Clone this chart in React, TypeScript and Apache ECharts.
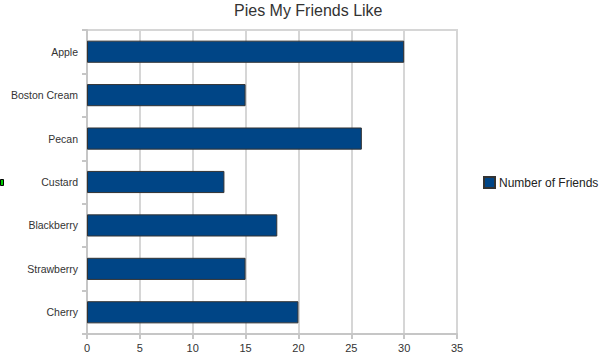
import React, { useEffect, useRef } from "react";
import * as echarts from "echarts";

const categories = ["Apple", "Boston Cream", "Pecan", "Custard", "Blackberry", "Strawberry", "Cherry"];
const friends = [30, 15, 26, 13, 18, 15, 20];
const seriesName = "Number of Friends";
const chartTitle = "Pies My Friends Like";

export default function App() {
  const ref = useRef<HTMLDivElement>(null);
  useEffect(() => {
    if (!ref.current) return;
    const chart = echarts.init(ref.current, null, { renderer: "svg" });
    const font = "'Liberation Sans', Arial, sans-serif";
    chart.setOption({
      animation: false,
      backgroundColor: "#ffffff",
      title: {
        text: chartTitle,
        left: 234,
        top: 2,
        padding: 0,
        textStyle: { fontFamily: font, fontSize: 16, fontWeight: "normal", color: "#333333" },
      },
      legend: {
        data: [seriesName],
        orient: "vertical",
        left: 483,
        top: 176,
        padding: 0,
        itemWidth: 11,
        itemHeight: 11,
        itemGap: 4,
        icon: "rect",
        textStyle: { fontFamily: font, fontSize: 12, color: "#222222", padding: [0, 0, 0, -1] },
      },
      grid: {
        left: 87,
        right: 153,
        top: 30,
        bottom: 30,
        show: true,
        borderColor: "#d6d6d6",
        borderWidth: 2,
      },
      xAxis: {
        type: "value",
        min: 0,
        max: 35,
        interval: 5,
        axisLine: { show: true, lineStyle: { color: "#c6c6c6", width: 2 } },
        axisTick: { show: true, length: 5, lineStyle: { color: "#c6c6c6", width: 2 } },
        axisLabel: { fontFamily: font, fontSize: 11, color: "#333333", margin: 8 },
        splitLine: { show: true, lineStyle: { color: "#d6d6d6", width: 2 } },
      },
      yAxis: {
        type: "category",
        data: categories,
        inverse: true,
        axisLine: { show: true, lineStyle: { color: "#c6c6c6", width: 2 } },
        axisTick: { show: true, length: 5, lineStyle: { color: "#c6c6c6", width: 2 } },
        axisLabel: { fontFamily: font, fontSize: 10.5, color: "#333333", margin: 9 },
        splitLine: { show: false },
      },
      series: [
        {
          name: seriesName,
          type: "bar",
          data: friends,
          barCategoryGap: "49%",
          itemStyle: { color: "#004586", borderColor: "#333333", borderWidth: 1 },
        },
      ],
      graphic: [
        {
          type: "rect",
          shape: { x: 0.5, y: 179.5, width: 3, height: 6 },
          style: { fill: "#00cc00", stroke: "#000000", lineWidth: 1 },
        },
      ],
    });
    return () => chart.dispose();
  }, []);
  return <div ref={ref} style={{ width: 610, height: 364, position: "absolute", left: 0, top: 0 }} />;
}
